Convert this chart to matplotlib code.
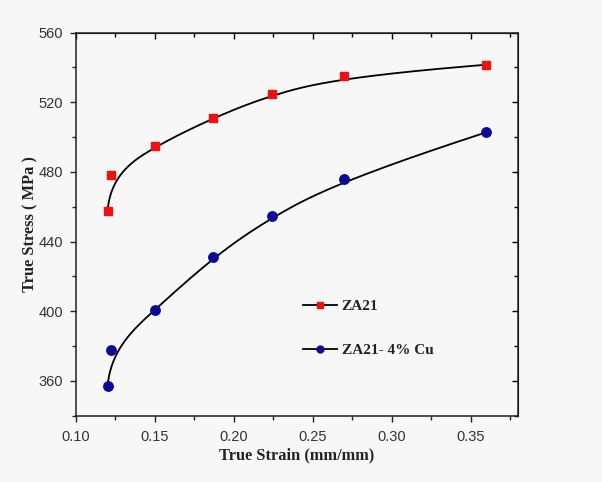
import numpy as np
import matplotlib
matplotlib.use("Agg")
import matplotlib.pyplot as plt
from matplotlib.ticker import MultipleLocator

strain = [0.120, 0.122, 0.150, 0.187, 0.224, 0.270, 0.360]
stress_za21 = [457.7, 478.2, 495.0, 511.0, 524.8, 535.0, 541.6]
stress_za21cu = [356.8, 377.7, 400.9, 431.1, 454.6, 476.2, 502.8]
labels = ["ZA21", "ZA21- 4% Cu"]
xticks = [0.10, 0.15, 0.20, 0.25, 0.30, 0.35]
yticks = [360, 400, 440, 480, 520, 560]

BG = "#f7f7f7"


def bspline(xs, ys, n=400, k=3):
    xs = np.asarray(xs, float)
    ys = np.asarray(ys, float)
    m = len(xs)
    inner = np.arange(1, m - k) / (m - k)
    t = np.concatenate([np.zeros(k + 1), inner, np.ones(k + 1)])
    u = np.linspace(0, 1, n)
    u[-1] = 1 - 1e-12

    def N(i, p, uu):
        if p == 0:
            return np.where((t[i] <= uu) & (uu < t[i + 1]), 1.0, 0.0)
        a = np.zeros_like(uu)
        b = np.zeros_like(uu)
        if t[i + p] != t[i]:
            a = (uu - t[i]) / (t[i + p] - t[i]) * N(i, p - 1, uu)
        if t[i + p + 1] != t[i + 1]:
            b = (t[i + p + 1] - uu) / (t[i + p + 1] - t[i + 1]) * N(i + 1, p - 1, uu)
        return a + b

    B = np.array([N(i, k, u) for i in range(m)])
    return B.T @ xs, B.T @ ys


fig = plt.figure(figsize=(6.02, 4.82), dpi=100, facecolor=BG)
ax = fig.add_axes([0.1262, 0.1376, 0.8605 - 0.1262, 0.9322 - 0.1376], facecolor=BG)

series = [
    (stress_za21, "s", "#f01010", 6.0, 4.5),
    (stress_za21cu, "o", "#0a0a96", 6.8, 5.0),
]
handles = []
for (ys, mk, col, ms, lms), lab in zip(series, labels):
    cx, cy = bspline(strain, ys)
    ax.plot(cx, cy, color="black", lw=1.3, zorder=2)
    ax.plot(strain, ys, linestyle="none", marker=mk, color=col, ms=ms, zorder=3)
    h, = ax.plot([], [], color="black", lw=1.3, marker=mk, mfc=col, mec=col, ms=lms, label=lab)
    handles.append(h)

ax.set_xlim(0.10, 0.38)
ax.set_ylim(340, 560)
ax.set_xticks(xticks)
ax.set_yticks(yticks)
ax.xaxis.set_minor_locator(MultipleLocator(0.025))
ax.yaxis.set_minor_locator(MultipleLocator(20))
ax.set_xticklabels([f"{v:.2f}" for v in xticks])

ax.tick_params(which="both", direction="out", top=False, right=False, width=1.0,
               labelsize=10.5, colors="#222222")
ax.tick_params(which="major", length=4.5)
ax.tick_params(which="minor", length=3)
ax.tick_params(axis="x", pad=5.5)
ax.tick_params(axis="y", pad=5)
for lab in ax.get_xticklabels() + ax.get_yticklabels():
    lab.set_fontfamily("Liberation Sans")
    lab.set_color("#333333")

ax2 = ax.secondary_xaxis("top")
ax2.set_xticks(xticks)
ax2.xaxis.set_minor_locator(MultipleLocator(0.025))
ax2.tick_params(which="both", direction="in", labeltop=False, width=1.0)
ax2.tick_params(which="major", length=4)
ax2.tick_params(which="minor", length=3)
ay2 = ax.secondary_yaxis("right")
ay2.set_yticks(yticks)
ay2.yaxis.set_minor_locator(MultipleLocator(20))
ay2.tick_params(which="both", direction="in", labelright=False, width=1.0)
ay2.tick_params(which="major", length=4)
ay2.tick_params(which="minor", length=3)

for s in ax.spines.values():
    s.set_linewidth(1.1)
    s.set_color("#222222")

ax.set_xlabel("True Strain (mm/mm)", fontfamily="Liberation Serif", fontweight="bold",
              fontsize=11.8, color="#222222", labelpad=3)
ax.set_ylabel("True Stress ( MPa )", fontfamily="Liberation Serif", fontweight="bold",
              fontsize=11.8, color="#222222", labelpad=0)

leg = ax.legend(handles=handles, loc="upper left", bbox_to_anchor=(0.482, 0.34),
                frameon=False, handlelength=2.25, labelspacing=2.0, handletextpad=0.3,
                prop={"family": "Liberation Serif", "weight": "bold", "size": 11})
for t in leg.get_texts():
    t.set_color("#222222")

fig.savefig("out.png", dpi=100, facecolor=BG)
